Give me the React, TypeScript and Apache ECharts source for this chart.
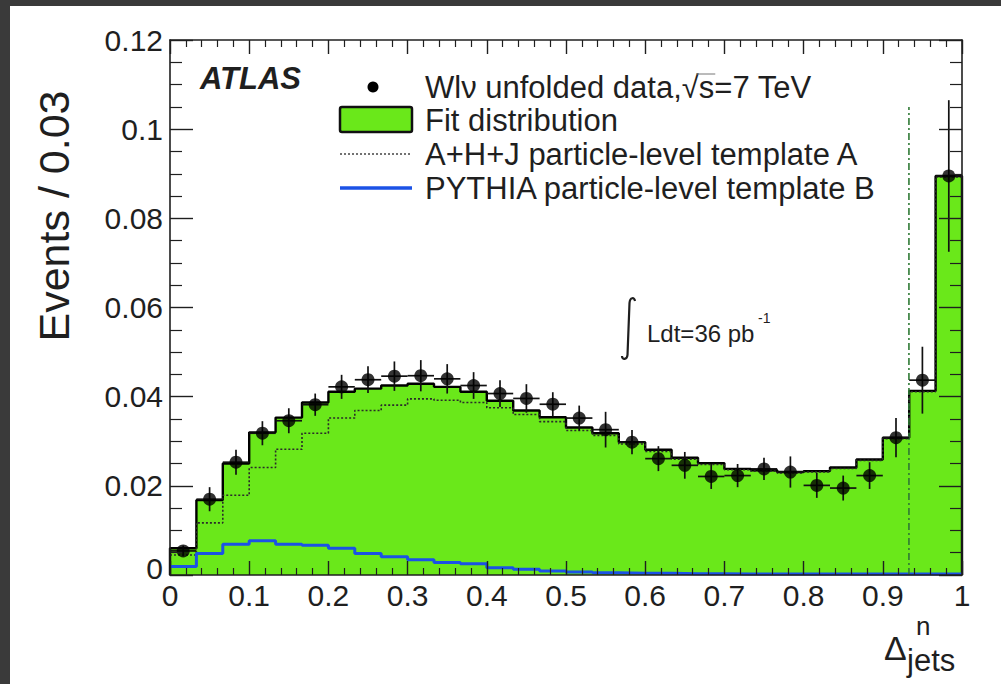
import React, { useEffect, useRef } from "react";
import * as echarts from "echarts";

// 30 equal bins on [0, 1]
const BIN_COUNT = 30;
const BIN_WIDTH = 1 / BIN_COUNT;

// Unfolded W→lν data (per bin) and its uncertainties
const dataValues = [
  0.0054, 0.017, 0.0253, 0.0318, 0.0346, 0.0382, 0.0422, 0.0438, 0.0446, 0.0447,
  0.044, 0.0425, 0.0407, 0.0396, 0.0383, 0.0352, 0.0326, 0.0298, 0.0261, 0.0246,
  0.0221, 0.0223, 0.0238, 0.0231, 0.0201, 0.0195, 0.0223, 0.0308, 0.0437, 0.0895,
];
const dataErrors = [
  0.0012, 0.0027, 0.0028, 0.0027, 0.0028, 0.0025, 0.0027, 0.003, 0.0033, 0.0035,
  0.0033, 0.003, 0.003, 0.0032, 0.0027, 0.0028, 0.004, 0.0027, 0.0028, 0.003,
  0.0028, 0.0026, 0.0025, 0.0035, 0.0028, 0.0028, 0.003, 0.0044, 0.0075, 0.017,
];
// Fitted distribution
const fitValues = [
  0.006, 0.0168, 0.025, 0.032, 0.0353, 0.0387, 0.0411, 0.0418, 0.0425, 0.0429,
  0.0422, 0.0411, 0.0391, 0.0369, 0.0354, 0.0331, 0.0318, 0.0298, 0.0281, 0.0263,
  0.0251, 0.0238, 0.0235, 0.0231, 0.0233, 0.0241, 0.0259, 0.0308, 0.0413, 0.0895,
];
// A+H+J particle-level template A
const templateA = [
  0.0045, 0.0117, 0.0179, 0.0241, 0.0282, 0.0318, 0.0352, 0.0369, 0.0381, 0.0395,
  0.0392, 0.0387, 0.0375, 0.036, 0.0344, 0.0324, 0.0313, 0.0294, 0.0277, 0.026,
  0.0248, 0.0236, 0.0233, 0.0229, 0.0231, 0.0239, 0.0257, 0.0306, 0.0411, 0.0893,
];
// PYTHIA particle-level template B
const templateB = [
  0.0019, 0.0048, 0.0069, 0.0077, 0.0069, 0.0067, 0.006, 0.0048, 0.0041, 0.0034,
  0.0028, 0.0025, 0.0016, 0.0013, 0.0009, 0.0007, 0.0005, 0.0004, 0.0004, 0.0003,
  0.0003, 0.0002, 0.0002, 0.0002, 0.0002, 0.0002, 0.0002, 0.0002, 0.0002, 0.0002,
];

// Vertical cut marker [x, top]
const cutLine = [0.933, 0.105];

// Axis ranges / tick steps
const X_RANGE = [0, 1];
const X_STEP = 0.1;
const Y_RANGE = [0, 0.12];
const Y_STEP = 0.02;

const legendLabels = [
  "Wlν unfolded data,√s=7 TeV",
  "Fit distribution",
  "A+H+J particle-level template A",
  "PYTHIA particle-level template B",
];

const FONT = "'Liberation Sans', Arial, Helvetica, sans-serif";
const INK = "#1f1f1f";
const GREEN = "#6ae81a";
const BLUE = "#1b52e6";

// Histogram outline points for a step line: value held from each bin's left edge
function stepPoints(vals: number[], closed: boolean): number[][] {
  const pts: number[][] = [];
  if (closed) pts.push([0, 0]);
  vals.forEach((v, i) => pts.push([i * BIN_WIDTH, v]));
  pts.push([1, vals[vals.length - 1]]);
  if (closed) pts.push([1, 0]);
  return pts;
}

function measure(text: string, font: string): number {
  const c = document.createElement("canvas").getContext("2d");
  if (!c) return text.length * 15;
  c.font = font;
  return c.measureText(text).width;
}

function App() {
  const ref = useRef<HTMLDivElement>(null);

  useEffect(() => {
    if (!ref.current) return;
    const chart = echarts.init(ref.current, undefined, { renderer: "svg" });

    const integralPath =
      "M0,58 C0,62 5,62 5.5,57 L7.5,5 C8,-1 12.5,-1 13,3";
    echarts.graphic.registerShape(
      "integralSign",
      echarts.graphic.extendPath(integralPath, {})
    );

    const axisCommon = (pos: string, showLabels: boolean, isX: boolean) => ({
      type: "value" as const,
      position: pos,
      min: isX ? X_RANGE[0] : Y_RANGE[0],
      max: isX ? X_RANGE[1] : Y_RANGE[1],
      interval: isX ? X_STEP : Y_STEP,
      z: 10,
      axisLine: { show: true, onZero: false, lineStyle: { color: INK, width: 1.6 } },
      axisTick: {
        show: true,
        inside: true,
        length: isX ? 14 : 23,
        lineStyle: { color: INK, width: 1.4 },
      },
      minorTick: {
        show: true,
        splitNumber: isX ? 5 : 4,
        length: isX ? 7 : 12,
        lineStyle: { color: INK, width: 1.2 },
      },
      splitLine: { show: false },
      minorSplitLine: { show: false },
      axisLabel: {
        show: showLabels,
        fontFamily: FONT,
        fontSize: 30,
        color: INK,
        margin: isX ? 5 : 7,
        formatter: (v: number) => {
          if (!isX && v === 0) return "{z|0}";
          return String(+v.toFixed(3));
        },
        rich: {
          z: { fontFamily: FONT, fontSize: 30, color: INK, padding: [0, 0, 14, 0] },
        },
      },
    });

    const legendFont = `31px ${FONT}`;
    const lx = 425;
    const rowY = [87, 120, 154, 188];
    const preRoot = measure("Wlν unfolded data,", legendFont);
    const rootW = measure("√", legendFont);
    const sW = measure("s", legendFont);

    const option: any = {
      animation: false,
      backgroundColor: "#ffffff",
      grid: { left: 170, right: 39, top: 40, bottom: 109, containLabel: false },
      xAxis: [axisCommon("bottom", true, true), axisCommon("top", false, true)],
      yAxis: [axisCommon("left", true, false), axisCommon("right", false, false)],
      series: [
        {
          name: "Fit distribution",
          type: "line",
          step: "end",
          symbol: "none",
          data: stepPoints(fitValues, true),
          lineStyle: { color: "#000", width: 2.4 },
          areaStyle: { color: GREEN, opacity: 1 },
          z: 2,
        },
        {
          name: "Template A",
          type: "line",
          step: "end",
          symbol: "none",
          data: stepPoints(templateA, false),
          lineStyle: { color: "#2a2a2a", width: 1.6, type: [2, 2] },
          z: 3,
        },
        {
          name: "Template B",
          type: "line",
          step: "end",
          symbol: "none",
          data: stepPoints(templateB, false),
          lineStyle: { color: BLUE, width: 3 },
          z: 4,
        },
        {
          name: "Cut",
          type: "line",
          symbol: "none",
          data: [
            [cutLine[0], 0],
            [cutLine[0], cutLine[1]],
          ],
          lineStyle: { color: "#2f7a34", width: 1.6, type: [7, 3, 2, 3] },
          z: 5,
        },
        {
          name: "Errors",
          type: "custom",
          data: dataValues.map((v, i) => [(i + 0.5) * BIN_WIDTH, v, dataErrors[i]]),
          encode: { x: 0, y: 1 },
          renderItem: (_p: any, api: any) => {
            const x = api.value(0);
            const v = api.value(1);
            const e = api.value(2);
            const top = api.coord([x, v + e]);
            const bot = api.coord([x, v - e]);
            const l = api.coord([x - BIN_WIDTH / 2, v]);
            const r = api.coord([x + BIN_WIDTH / 2, v]);
            const st = { stroke: "#111", lineWidth: 1.7 };
            return {
              type: "group",
              children: [
                { type: "line", shape: { x1: top[0], y1: top[1], x2: bot[0], y2: bot[1] }, style: st },
                { type: "line", shape: { x1: l[0], y1: l[1], x2: r[0], y2: r[1] }, style: st },
              ],
            };
          },
          z: 6,
        },
        {
          name: "Data",
          type: "scatter",
          symbol: "circle",
          symbolSize: 13,
          data: dataValues.map((v, i) => [(i + 0.5) * BIN_WIDTH, v]),
          itemStyle: { color: "#000" },
          z: 7,
        },
      ],
      graphic: [
        // frame edges
        { type: "rect", shape: { x: 0, y: 0, width: 10, height: 684 }, style: { fill: "#3a3a3a" }, z: 100 },
        { type: "rect", shape: { x: 0, y: 0, width: 1001, height: 6 }, style: { fill: "#3a3a3a" }, z: 100 },
        // y axis title
        {
          type: "text",
          x: 54,
          y: 216,
          rotation: Math.PI / 2,
          style: {
            text: "Events / 0.03",
            fontFamily: FONT,
            fontSize: 43,
            fill: INK,
            align: "center",
            verticalAlign: "middle",
          },
          z: 100,
        },
        // x axis title
        {
          type: "text",
          x: 884,
          y: 648,
          style: { text: "Δ", fontFamily: FONT, fontSize: 34, fill: INK, align: "left", verticalAlign: "middle" },
          z: 100,
        },
        {
          type: "text",
          x: 916,
          y: 626,
          style: { text: "n", fontFamily: FONT, fontSize: 26, fill: INK, align: "left", verticalAlign: "middle" },
          z: 100,
        },
        {
          type: "text",
          x: 907,
          y: 660,
          style: { text: "jets", fontFamily: FONT, fontSize: 31, fill: INK, align: "left", verticalAlign: "middle" },
          z: 100,
        },
        // experiment label
        {
          type: "text",
          x: 200,
          y: 78,
          style: {
            text: "ATLAS",
            fontFamily: FONT,
            fontSize: 31,
            fontWeight: "bold",
            fontStyle: "italic",
            fill: INK,
            align: "left",
            verticalAlign: "middle",
          },
          z: 100,
        },
        // luminosity
        {
          type: "integralSign",
          x: 622,
          y: 298,
          style: { stroke: INK, lineWidth: 2.2, fill: "none" },
          z: 100,
        },
        {
          type: "text",
          x: 647,
          y: 333,
          style: { text: "Ldt=36 pb", fontFamily: FONT, fontSize: 24, fill: INK, align: "left", verticalAlign: "middle" },
          z: 100,
        },
        {
          type: "text",
          x: 758,
          y: 318,
          style: { text: "-1", fontFamily: FONT, fontSize: 14, fill: INK, align: "left", verticalAlign: "middle" },
          z: 100,
        },
        // legend
        { type: "circle", shape: { cx: 373, cy: rowY[0], r: 5.5 }, style: { fill: "#000" }, z: 100 },
        {
          type: "rect",
          shape: { x: 340, y: 107, width: 72, height: 25, r: 2 },
          style: { fill: GREEN, stroke: "#111", lineWidth: 2.5 },
          z: 100,
        },
        {
          type: "line",
          shape: { x1: 340, y1: rowY[2], x2: 412, y2: rowY[2] },
          style: { stroke: "#444", lineWidth: 1.6, lineDash: [2, 2] },
          z: 100,
        },
        {
          type: "line",
          shape: { x1: 340, y1: rowY[3], x2: 412, y2: rowY[3] },
          style: { stroke: BLUE, lineWidth: 3.5 },
          z: 100,
        },
        ...legendLabels.map((t, i) => ({
          type: "text",
          x: lx,
          y: rowY[i],
          style: { text: t, fontFamily: FONT, fontSize: 31, fill: INK, align: "left", verticalAlign: "middle" },
          z: 100,
        })),
        // overbar of the square root
        {
          type: "line",
          shape: {
            x1: lx + preRoot + rootW * 0.85,
            y1: rowY[0] - 13,
            x2: lx + preRoot + rootW + sW + 1,
            y2: rowY[0] - 13,
          },
          style: { stroke: "#777", lineWidth: 1 },
          z: 100,
        },
      ],
    };

    chart.setOption(option);
    return () => chart.dispose();
  }, []);

  return (
    <div
      ref={ref}
      style={{ position: "fixed", left: 0, top: 0, width: 1001, height: 684, background: "#fff" }}
    />
  );
}

export default App;
